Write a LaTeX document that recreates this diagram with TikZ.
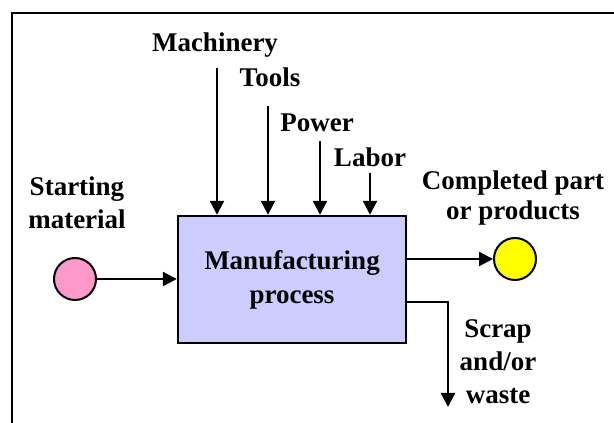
\documentclass[tikz,border=0pt]{standalone}
\usepackage{fontspec}
\setmainfont{Liberation Serif}
\usepackage{xcolor}
\usetikzlibrary{arrows.meta,calc}

\definecolor{boxblue}{HTML}{CCCCFF}
\definecolor{rawpink}{HTML}{FF99CC}
\definecolor{partyellow}{HTML}{FFFF00}

\begin{document}
\begin{tikzpicture}[x=1pt, y=1pt,
  proc/.style={draw, line width=2.4pt, fill=boxblue, minimum width=228pt,
               minimum height=127pt, align=center, inner sep=0pt,
               font=\fontsize{27}{34}\selectfont\bfseries},
  ball/.style={circle, draw, line width=2pt, minimum size=42pt, inner sep=0pt},
  lbl/.style={font=\fontsize{27}{33}\selectfont\bfseries, align=center, inner sep=0pt},
  flow/.style={line width=2.2pt, -{Triangle[length=14pt, width=14pt]}},
]
  \useasboundingbox (0,0) rectangle (614,423);
  % frame (only left and top edges show)
  \draw[line width=2.2pt] (12,0) -- (12,410) -- (614,410);

  % Central box
  \node[proc] (mfg) at (292,143.5) {Manufacturing\\process};

  % Input and output
  \node[ball, fill=rawpink] (start) at (75,144) {};
  \node[ball, fill=partyellow] (prod) at (515,164) {};

  \node[lbl] (startlbl) at (77,220) {Starting\\material};
  \node[lbl, font=\fontsize{27}{30}\selectfont\bfseries] (prodlbl) at (513,225)
    {Completed part\\or products};
  \node[lbl] (scraplbl) at (498,61) {Scrap\\and/or\\waste};

  % Resources
  \node[lbl] (mach) at (215,378) {Machinery};
  \node[lbl] (tools) at (270,346) {Tools};
  \node[lbl] (power) at (317,300) {Power};
  \node[lbl] (labor) at (370,266) {Labor};

  \coordinate (machtop) at (217,355);
  \coordinate (toolstop) at (268,317);
  \coordinate (powertop) at (320,282);
  \coordinate (labortop) at (370,250);
  \coordinate (scrapturn) at (448,121);
  \coordinate (scrapend) at (448,16);

  % Arrows
  \foreach \c in {machtop,toolstop,powertop,labortop}
    \draw[flow] (\c) -- (\c |- mfg.north);
  \draw[flow] (start.east) -- (start.east -| mfg.west);
  \draw[flow] (prod.west -| mfg.east) -- (prod.west);
  \draw[flow] (scrapturn -| mfg.east) -- (scrapturn) -- (scrapend);
\end{tikzpicture}
\end{document}
